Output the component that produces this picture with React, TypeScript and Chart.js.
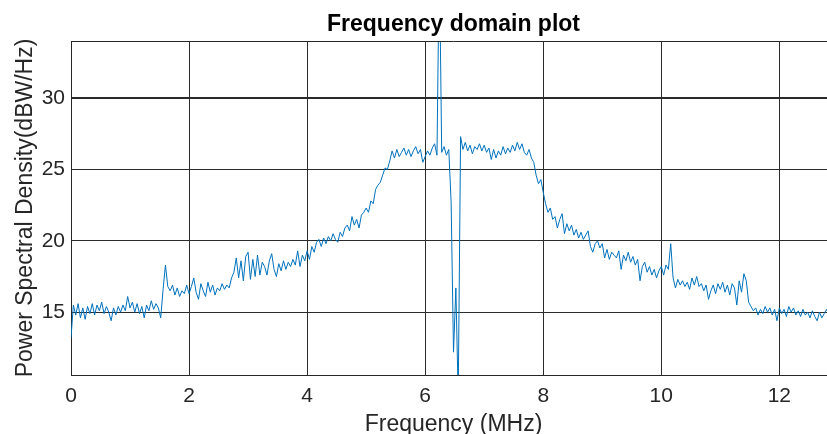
import { useEffect, useRef } from "react";
import { Chart, registerables } from "chart.js";

Chart.register(...registerables);

// Frequency grid (MHz)
const FREQ_START = 0;
const FREQ_STEP = 0.04;

// Power spectral density (dBW/Hz), one array per MHz, 0.04 MHz apart
const PSD_00 = [13.2, 15.5, 14.8, 15.6, 14.6, 15.3, 14.5, 15.4, 14.9, 15.6, 14.8, 15.5, 15.1, 15.7, 14.9, 15.4, 15.0, 14.4, 15.3, 14.8, 15.4, 15.0, 15.5, 15.1, 16.1];
const PSD_01 = [15.3, 15.7, 15.0, 15.6, 14.9, 15.4, 14.6, 15.5, 15.1, 15.8, 15.2, 15.6, 15.3, 14.6, 16.6, 18.3, 16.8, 16.5, 16.9, 16.2, 16.7, 16.1, 16.5, 16.3, 16.9];
const PSD_02 = [16.3, 16.8, 17.4, 16.4, 15.9, 17.0, 16.5, 16.1, 17.1, 16.4, 16.9, 16.2, 16.7, 16.5, 17.0, 16.6, 16.9, 16.7, 17.4, 17.8, 18.8, 17.4, 18.6, 17.2, 18.9];
const PSD_03 = [19.2, 17.3, 18.7, 17.5, 19.0, 17.6, 18.5, 18.2, 17.6, 18.6, 19.1, 18.0, 17.5, 18.4, 17.9, 18.6, 18.0, 18.5, 18.2, 18.7, 18.3, 19.3, 18.2, 19.0, 18.6];
const PSD_04 = [19.3, 18.7, 19.6, 19.2, 19.9, 20.1, 19.6, 20.2, 19.8, 20.3, 20.0, 20.5, 20.1, 19.9, 20.6, 20.3, 20.9, 21.1, 20.7, 21.7, 21.1, 21.5, 20.9, 21.8, 22.0];
const PSD_05 = [22.3, 22.0, 22.8, 22.6, 23.6, 23.9, 24.1, 24.6, 25.1, 25.0, 25.6, 26.3, 25.8, 26.4, 25.9, 26.2, 26.5, 26.0, 26.4, 25.9, 26.3, 26.6, 26.1, 26.4, 25.5];
const PSD_06 = [25.9, 26.3, 26.0, 26.5, 26.8, 26.0, 40.0, 26.2, 26.6, 26.0, 26.4, 22.7, 12.2, 16.7, 9.0, 27.3, 26.4, 26.9, 26.3, 26.7, 26.1, 26.6, 26.4, 26.8, 26.3];
const PSD_07 = [26.7, 26.2, 26.5, 25.7, 26.4, 25.8, 26.3, 26.0, 26.6, 26.1, 26.5, 26.2, 26.7, 26.3, 26.9, 26.4, 26.8, 26.2, 26.0, 26.4, 25.8, 25.5, 24.6, 24.0, 24.3];
const PSD_08 = [23.4, 22.6, 22.0, 22.3, 21.5, 21.7, 20.9, 21.5, 21.9, 20.5, 21.2, 20.7, 21.1, 20.4, 20.8, 20.2, 20.6, 20.1, 20.4, 20.7, 19.6, 19.2, 19.8, 20.0, 19.5];
const PSD_09 = [19.8, 18.8, 19.4, 18.7, 19.2, 19.0, 18.8, 19.3, 18.0, 19.0, 18.6, 19.2, 18.5, 18.9, 18.3, 18.7, 17.2, 18.2, 18.5, 17.8, 18.2, 17.6, 18.0, 17.4, 17.9];
const PSD_10 = [18.2, 17.6, 18.3, 18.0, 19.8, 17.4, 16.7, 17.3, 16.9, 17.2, 16.8, 17.1, 16.6, 17.4, 16.9, 17.5, 16.8, 17.0, 16.5, 16.9, 15.9, 16.5, 16.9, 16.3, 17.0];
const PSD_11 = [16.6, 17.1, 16.4, 16.9, 16.2, 17.0, 16.7, 15.5, 17.2, 16.4, 17.7, 17.2, 15.7, 15.4, 15.1, 15.3, 14.8, 15.2, 14.9, 15.4, 15.0, 15.3, 14.8, 15.2, 14.4];
const PSD_12 = [15.3, 14.9, 15.2, 14.7, 15.4, 15.0, 15.3, 14.8, 15.1, 14.7, 15.2, 14.8, 15.0, 14.6, 15.1, 14.7, 14.4, 15.0, 14.6, 14.9, 15.2, 14.8, 15.1, 14.7, 15.0];

const X_TICKS = [0, 2, 4, 6, 8, 10, 12];
const Y_TICKS = [15, 20, 25, 30];
const X_MIN = 0;
const X_MAX = 12.96;
const Y_MIN = 10.6;
const Y_MAX = 34;

const TITLE = "Frequency domain plot";
const X_TITLE = "Frequency (MHz)";
const Y_TITLE = "Power Spectral Density(dBW/Hz)";

const FONT = "'Liberation Sans', Arial, Helvetica, sans-serif";
const LINE_COLOR = "#0072BD";
const AXIS_COLOR = "#262626";
const GRID_COLOR = "#2b2b2b";

const PSD = [
  ...PSD_00, ...PSD_01, ...PSD_02, ...PSD_03, ...PSD_04, ...PSD_05, ...PSD_06,
  ...PSD_07, ...PSD_08, ...PSD_09, ...PSD_10, ...PSD_11, ...PSD_12,
];

const topBorder = {
  id: "topBorder",
  afterDraw(chart: any) {
    const { ctx, chartArea } = chart;
    ctx.save();
    ctx.strokeStyle = AXIS_COLOR;
    ctx.lineWidth = 1;
    ctx.beginPath();
    const y = Math.round(chartArea.top) + 0.5;
    ctx.moveTo(chartArea.left, y);
    ctx.lineTo(chartArea.right, y);
    ctx.stroke();
    ctx.restore();
  },
};

export default function App() {
  const ref = useRef<HTMLCanvasElement | null>(null);

  useEffect(() => {
    if (!ref.current) return;
    const points = PSD.map((v, i) => ({ x: +(FREQ_START + i * FREQ_STEP).toFixed(2), y: v }));
    const chart = new Chart(ref.current, {
      type: "line",
      data: {
        datasets: [
          {
            data: points,
            borderColor: LINE_COLOR,
            borderWidth: 1,
            pointRadius: 0,
            tension: 0,
            fill: false,
          },
        ],
      },
      plugins: [topBorder],
      options: {
        animation: false,
        responsive: true,
        maintainAspectRatio: false,
        layout: { padding: 0 },
        plugins: {
          legend: { display: false },
          tooltip: { enabled: false },
          title: {
            display: true,
            text: TITLE,
            fullSize: false,
            color: "#000",
            font: { family: FONT, size: 23, weight: "bold" },
            padding: { top: 11.2, bottom: 2.2 },
          },
        },
        scales: {
          x: {
            type: "linear",
            min: X_MIN,
            max: X_MAX,
            afterBuildTicks: (s: any) => {
              s.ticks = X_TICKS.map((v) => ({ value: v }));
            },
            afterFit: (s: any) => {
              s.height = 59;
            },
            grid: { color: GRID_COLOR, lineWidth: 1, drawTicks: false },
            border: { display: true, color: AXIS_COLOR, width: 1 },
            ticks: {
              color: AXIS_COLOR,
              font: { family: FONT, size: 21 },
              padding: 9,
              maxRotation: 0,
              autoSkip: false,
            },
            title: {
              display: true,
              text: X_TITLE,
              color: AXIS_COLOR,
              font: { family: FONT, size: 23, lineHeight: 0.84 },
              padding: { top: 0, bottom: 0 },
            },
          },
          y: {
            type: "linear",
            min: Y_MIN,
            max: Y_MAX,
            afterBuildTicks: (s: any) => {
              s.ticks = Y_TICKS.map((v) => ({ value: v }));
            },
            afterFit: (s: any) => {
              s.width = 71;
            },
            grid: {
              color: GRID_COLOR,
              lineWidth: (c: any) => (c.tick && c.tick.value === 30 ? 2 : 1),
              drawTicks: false,
            },
            border: { display: true, color: AXIS_COLOR, width: 1 },
            ticks: {
              color: AXIS_COLOR,
              font: { family: FONT, size: 21 },
              padding: 6,
            },
            title: {
              display: true,
              text: Y_TITLE,
              color: AXIS_COLOR,
              font: { family: FONT, size: 23 },
              padding: { top: 12, bottom: 0 },
            },
          },
        },
      },
    });
    return () => chart.destroy();
  }, []);

  return (
    <div style={{ position: "fixed", left: 0, top: 0, width: 827, height: 434, overflow: "hidden", background: "#fff" }}>
      <div style={{ position: "relative", width: 836, height: 434 }}>
        <canvas ref={ref} />
      </div>
    </div>
  );
}
